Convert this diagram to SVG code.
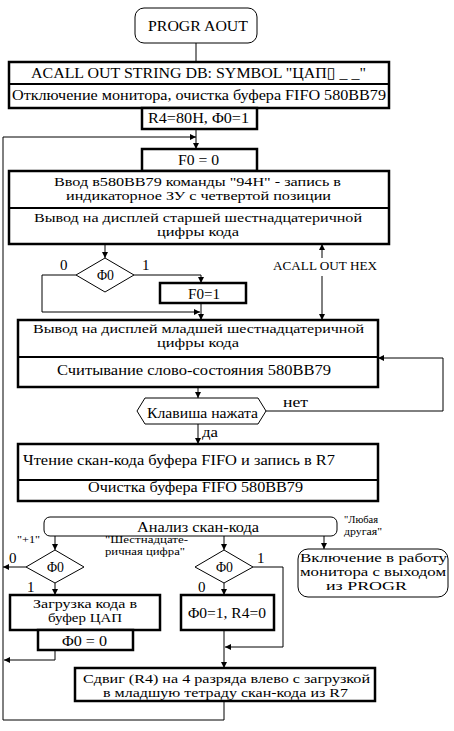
<svg xmlns="http://www.w3.org/2000/svg" width="454" height="731" viewBox="0 0 454 731">
<style>
text{font-family:"Liberation Serif","DejaVu Serif",serif;font-size:15px;fill:#000}
.d{font-size:12px}
.s{font-size:10px}
.m{font-size:13px}
.b{fill:#fff;stroke:#000;stroke-width:2.5}
.n{fill:#fff;stroke:#000;stroke-width:1}
.c line,.c polyline{fill:none;stroke:#000;stroke-width:1}
</style>
<defs>
<marker id="a" viewBox="0 0 6 6" refX="6" refY="3" markerWidth="6" markerHeight="6" orient="auto" markerUnits="userSpaceOnUse"><path d="M0,0L6,3L0,6z" fill="#000"/></marker>
</defs>
<rect width="454" height="731" fill="#fff"/>

<g class="c" id="connectors">
<line x1="196" y1="43" x2="196" y2="62"/>
<line x1="196" y1="129" x2="196" y2="149" marker-end="url(#a)"/>
<polyline points="224,701 224,720 3,720 3,137 196,137" marker-end="url(#a)"/>
<line x1="105" y1="244" x2="105" y2="258" marker-end="url(#a)"/>
<polyline points="76,275 42,275 42,312 200,312" marker-end="url(#a)"/>
<polyline points="134,275 201,275 201,283" marker-end="url(#a)"/>
<line x1="201" y1="303" x2="201" y2="320" marker-end="url(#a)"/>
<line x1="322" y1="258" x2="322" y2="244" marker-end="url(#a)"/>
<line x1="322" y1="276" x2="322" y2="320" marker-end="url(#a)"/>
<polyline points="266,411 443,411 443,358 378,358" marker-end="url(#a)"/>
<line x1="198" y1="387" x2="198" y2="398" marker-end="url(#a)"/>
<line x1="198" y1="424" x2="198" y2="444" marker-end="url(#a)"/>
<line x1="55" y1="536" x2="55" y2="550" marker-end="url(#a)"/>
<line x1="224" y1="536" x2="224" y2="550" marker-end="url(#a)"/>
<line x1="324" y1="536" x2="324" y2="549" marker-end="url(#a)"/>
<line x1="26" y1="567" x2="3" y2="567" marker-end="url(#a)"/>
<polyline points="253,567 283,567 283,647 225,647" marker-end="url(#a)"/>
<line x1="55" y1="583" x2="55" y2="595" marker-end="url(#a)"/>
<line x1="224" y1="583" x2="224" y2="595" marker-end="url(#a)"/>
<polyline points="55,650 55,660 4,660" marker-end="url(#a)"/>
<line x1="224" y1="630" x2="224" y2="668" marker-end="url(#a)"/>
</g>

<g id="start">
<rect class="n" x="135" y="8" width="122" height="35" rx="9"/>
<text x="148" y="31" textLength="100" lengthAdjust="spacingAndGlyphs">PROGR AOUT</text>
</g>

<g id="init">
<rect class="b" x="9" y="62" width="380" height="46"/>
<line x1="9" y1="84" x2="389" y2="84" stroke="#000" stroke-width="2"/>
<text x="31" y="78" textLength="335" lengthAdjust="spacingAndGlyphs">ACALL OUT STRING DB: SYMBOL "ЦАП▯ _ _"</text>
<text x="12" y="100" textLength="374" lengthAdjust="spacingAndGlyphs">Отключение монитора, очистка буфера FIFO 580BB79</text>
</g>

<g id="r4init">
<rect class="b" x="142" y="108" width="115" height="21"/>
<text x="148" y="123" textLength="101" lengthAdjust="spacingAndGlyphs">R4=80H, Φ0=1</text>
</g>

<g id="f0zero">
<rect class="b" x="142" y="149" width="115" height="22"/>
<text x="178" y="165" textLength="41" lengthAdjust="spacingAndGlyphs">F0 = 0</text>
</g>

<g id="outhigh">
<rect class="b" x="9" y="171" width="380" height="73"/>
<line x1="9" y1="208" x2="389" y2="208" stroke="#000" stroke-width="2"/>
<text class="d" x="54" y="186" textLength="287" lengthAdjust="spacingAndGlyphs">Ввод в580BB79 команды "94H" - запись в</text>
<text class="d" x="66" y="200" textLength="265" lengthAdjust="spacingAndGlyphs">индикаторное ЗУ с четвертой позиции</text>
<text class="d" x="34" y="222" textLength="328" lengthAdjust="spacingAndGlyphs">Вывод на дисплей старшей шестнадцатеричной</text>
<text class="d" x="157" y="236" textLength="82" lengthAdjust="spacingAndGlyphs">цифры кода</text>
</g>

<g id="dec1">
<polygon class="n" points="105,258 134,275 105,292 76,275"/>
<text x="97" y="280" textLength="17" lengthAdjust="spacingAndGlyphs">Φ0</text>
<text x="60" y="270">0</text>
<text x="142" y="270">1</text>
</g>

<g id="f0one">
<rect class="b" x="160" y="283" width="86" height="20"/>
<text x="188" y="299" textLength="32" lengthAdjust="spacingAndGlyphs">F0=1</text>
</g>

<g id="hexlabel">
<text class="m" x="273" y="270" textLength="104" lengthAdjust="spacingAndGlyphs">ACALL OUT HEX</text>
</g>

<g id="outlow">
<rect class="b" x="18" y="320" width="360" height="67"/>
<line x1="18" y1="357" x2="378" y2="357" stroke="#000" stroke-width="2"/>
<text class="d" x="33" y="333" textLength="331" lengthAdjust="spacingAndGlyphs">Вывод на дисплей младшей шестнадцатеричной</text>
<text class="d" x="157" y="347" textLength="82" lengthAdjust="spacingAndGlyphs">цифры кода</text>
<text x="57" y="375" textLength="274" lengthAdjust="spacingAndGlyphs">Считывание слово-состояния 580BB79</text>
</g>

<g id="keypressed">
<polygon class="n" points="137,411 145,398 258,398 266,411 258,424 145,424"/>
<text x="147" y="418" textLength="111" lengthAdjust="spacingAndGlyphs">Клавиша нажата</text>
<text x="283" y="407" textLength="25" lengthAdjust="spacingAndGlyphs">нет</text>
<text x="202" y="437" textLength="16" lengthAdjust="spacingAndGlyphs">да</text>
</g>

<g id="readfifo">
<rect class="b" x="18" y="444" width="360" height="57"/>
<line x1="18" y1="480" x2="378" y2="480" stroke="#000" stroke-width="2"/>
<text x="23" y="465" textLength="312" lengthAdjust="spacingAndGlyphs">Чтение скан-кода буфера FIFO и запись в R7</text>
<text x="88" y="492" textLength="215" lengthAdjust="spacingAndGlyphs">Очистка буфера FIFO 580BB79</text>
</g>

<g id="analysis">
<rect class="n" x="44" y="517" width="293" height="19" rx="6"/>
<text x="137" y="532" textLength="122" lengthAdjust="spacingAndGlyphs">Анализ скан-кода</text>
<text class="s" x="344" y="523" textLength="34" lengthAdjust="spacingAndGlyphs">"Любая</text>
<text class="s" x="344" y="535" textLength="38" lengthAdjust="spacingAndGlyphs">другая"</text>
<text class="s" x="17" y="543" textLength="23" lengthAdjust="spacingAndGlyphs">"+1"</text>
<text class="s" x="105" y="543" textLength="83" lengthAdjust="spacingAndGlyphs">"Шестнадцате-</text>
<text class="s" x="105" y="555" textLength="80" lengthAdjust="spacingAndGlyphs">ричная цифра"</text>
</g>

<g id="dec2">
<polygon class="n" points="55,550 84,567 55,583 26,567"/>
<text x="47" y="572" textLength="17" lengthAdjust="spacingAndGlyphs">Φ0</text>
<text x="9" y="563">0</text>
<text x="27" y="592">1</text>
</g>

<g id="dec3">
<polygon class="n" points="224,550 253,567 224,583 195,567"/>
<text x="216" y="572" textLength="17" lengthAdjust="spacingAndGlyphs">Φ0</text>
<text x="257" y="563">1</text>
<text x="198" y="592">0</text>
</g>

<g id="exit">
<rect class="n" x="298" y="549" width="150" height="48" rx="10"/>
<text class="d" x="300" y="562" textLength="147" lengthAdjust="spacingAndGlyphs">Включение в работу</text>
<text class="d" x="300" y="576" textLength="146" lengthAdjust="spacingAndGlyphs">монитора с выходом</text>
<text class="d" x="326" y="590" textLength="81" lengthAdjust="spacingAndGlyphs">из PROGR</text>
</g>

<g id="loaddac">
<rect class="b" x="10" y="595" width="150" height="35"/>
<text class="d" x="33" y="608" textLength="104" lengthAdjust="spacingAndGlyphs">Загрузка кода в</text>
<text class="d" x="48" y="622" textLength="74" lengthAdjust="spacingAndGlyphs">буфер ЦАП</text>
</g>

<g id="phizero">
<rect class="b" x="38" y="630" width="95" height="20"/>
<text x="62" y="646" textLength="45" lengthAdjust="spacingAndGlyphs">Φ0 = 0</text>
</g>

<g id="phione">
<rect class="b" x="181" y="595" width="93" height="35"/>
<text x="188" y="618" textLength="78" lengthAdjust="spacingAndGlyphs">Φ0=1, R4=0</text>
</g>

<g id="shift">
<rect class="b" x="75" y="668" width="300" height="33"/>
<text class="d" x="83" y="683" textLength="287" lengthAdjust="spacingAndGlyphs">Сдвиг (R4) на 4 разряда влево с загрузкой</text>
<text class="d" x="103" y="697" textLength="245" lengthAdjust="spacingAndGlyphs">в младшую тетраду скан-кода из R7</text>
</g>
</svg>
